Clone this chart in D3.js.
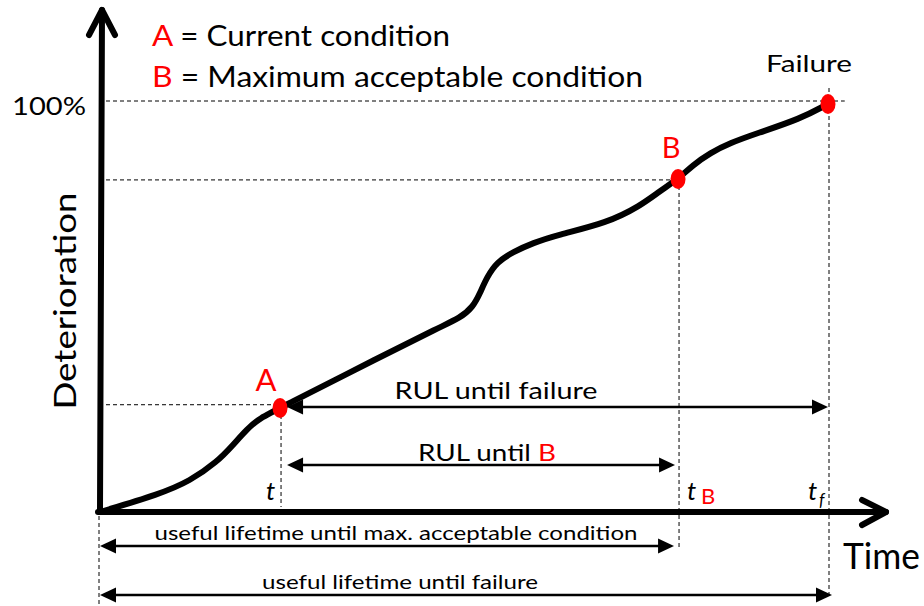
<!DOCTYPE html>
<html>
<head>
<meta charset="utf-8">
<script src="https://cdn.jsdelivr.net/npm/d3@7"></script>
<style>
  body { margin: 0; background: #fff; }
  svg text { font-family: Lato, "Open Sans", sans-serif; }
</style>
</head>
<body>
<div class="chart"></div>
<script>
// deterioration curve (time %, deterioration %)
var curveTime = [0, 8.24, 12.36, 16.07, 18.27, 20.19, 21.98, 24.73, 38.46, 46.7, 49.45, 51.24, 52.2, 53.16, 54.53, 56.73, 59.48, 62.77, 69.64, 74.18, 76.92, 79.4, 81.46, 83.79, 86.54, 90.25, 96.15, 100];
var curveLevel = [0, 4.38, 7.54, 12.17, 16.3, 20.19, 22.87, 25.3, 37.71, 45.01, 47.2, 49.88, 53.28, 57.18, 60.83, 63.26, 65.45, 67.4, 70.32, 74.45, 78.1, 81.02, 84.43, 87.35, 89.78, 92.15, 95.62, 99.27];

// key events: A, B, failure
var eventNames = ["A", "B", "Failure"];
var eventTime = [24.73, 79.4, 100];
var eventLevel = [25.3, 81.02, 99.27];
var guideLevel = [26.1, 80.8, 100];

// measurement spans
var spanLabels = ["RUL until failure", "RUL until ", "useful lifetime until max. acceptable condition", "useful lifetime until failure"];
var spanStart = [24.73, 24.73, 0, 0];
var spanEnd = [100, 79.4, 79.4, 100];

var legendKeys = ["A", "B"];
var legendTexts = [" = Current condition", " = Maximum acceptable condition"];

var svgWidth = 924;
var svgHeight = 606;

var svg = d3
  .select(".chart")
  .append("svg")
  .attr("width", svgWidth)
  .attr("height", svgHeight);

var xScale = d3.scaleLinear().domain([0, 100]).range([100, 828]);
var yScale = d3.scaleLinear().domain([0, 100]).range([512, 101]);

// dashed guide lines
var dash = "4,3";
var guides = svg.append("g")
  .attr("stroke", "#000")
  .attr("stroke-width", 1)
  .attr("stroke-dasharray", dash)
  .attr("fill", "none");

var hEnds = [eventTime[0], eventTime[1], 102.3];
var vEnds = [507, 550, 598];
eventNames.forEach(function (name, i) {
  guides.append("line")
    .attr("x1", xScale(0) + 6).attr("x2", xScale(hEnds[i]))
    .attr("y1", yScale(guideLevel[i])).attr("y2", yScale(guideLevel[i]));
  guides.append("line")
    .attr("x1", xScale(eventTime[i]) + 1).attr("x2", xScale(eventTime[i]) + 1)
    .attr("y1", i == 2 ? 88 : yScale(eventLevel[i])).attr("y2", vEnds[i]);
});
guides.append("line")
  .attr("x1", xScale(0) - 1).attr("x2", xScale(0) - 1)
  .attr("y1", 516).attr("y2", 606);

// axes with open arrowheads
var axes = svg.append("g")
  .attr("stroke", "#000")
  .attr("stroke-width", 6)
  .attr("fill", "none")
  .attr("stroke-linecap", "round")
  .attr("stroke-linejoin", "round");

axes.append("line")
  .attr("x1", xScale(0)).attr("y1", yScale(0))
  .attr("x2", xScale(0) + 2).attr("y2", 10);
axes.append("polyline")
  .attr("points", [[xScale(0) - 11, 35], [xScale(0) + 2, 10], [xScale(0) + 15, 35]].join(" "));

axes.append("line")
  .attr("x1", xScale(0) - 2).attr("y1", yScale(0))
  .attr("x2", 886).attr("y2", yScale(0));
axes.append("polyline")
  .attr("points", [[862, 500], [886, 512], [862, 525]].join(" "));

// curve
var line = d3.line()
  .x((d, i) => xScale(curveTime[i]))
  .y((d, i) => yScale(curveLevel[i]))
  .curve(d3.curveBasis);

svg.append("path")
  .datum(curveTime)
  .attr("d", line)
  .attr("fill", "none")
  .attr("stroke", "#000")
  .attr("stroke-width", 6)
  .attr("stroke-linecap", "round");

// event dots
svg.selectAll("ellipse")
  .data(eventNames)
  .enter()
  .append("ellipse")
  .attr("cx", (d, i) => xScale(eventTime[i]))
  .attr("cy", (d, i) => yScale(eventLevel[i]))
  .attr("rx", 7.5)
  .attr("ry", 10)
  .attr("fill", "#ff0000");

// double arrows
var rowY = [407, 465, 546, 595];
var padL = [7, 7, 0, 0];
var padR = [0, -3, -4, 4];
function arrow(x1, x2, y) {
  var g = svg.append("g");
  g.append("line")
    .attr("x1", x1 + 10).attr("x2", x2 - 10)
    .attr("y1", y).attr("y2", y)
    .attr("stroke", "#000").attr("stroke-width", 2.5);
  g.append("path")
    .attr("d", `M${x1},${y}L${x1 + 16},${y - 7.5}L${x1 + 16},${y + 7.5}Z`)
    .attr("fill", "#000");
  g.append("path")
    .attr("d", `M${x2},${y}L${x2 - 16},${y - 7.5}L${x2 - 16},${y + 7.5}Z`)
    .attr("fill", "#000");
}
spanLabels.forEach(function (label, i) {
  arrow(xScale(spanStart[i]) + padL[i], xScale(spanEnd[i]) + padR[i], rowY[i]);
});

// span labels
var labelX = [496, 487, 396, 400];
var labelY = [399, 461, 540, 589];
var labelSize = [24, 24, 20, 20];
var labelLen = [203, 138, 483, 276];
spanLabels.forEach(function (label, i) {
  var t = svg.append("text")
    .attr("x", labelX[i])
    .attr("y", labelY[i])
    .attr("text-anchor", "middle")
    .attr("font-size", labelSize[i])
    .attr("textLength", labelLen[i])
    .attr("lengthAdjust", "spacingAndGlyphs");
  t.append("tspan").text(label);
  if (i == 1) t.append("tspan").attr("fill", "#ff0000").text("B");
});

// legend
var legendY = [46, 87];
var legendLen = [298, 491];
legendKeys.forEach(function (k, i) {
  var t = svg.append("text")
    .attr("x", 152)
    .attr("y", legendY[i])
    .attr("font-size", 28)
    .attr("textLength", legendLen[i])
    .attr("lengthAdjust", "spacingAndGlyphs");
  t.append("tspan").attr("fill", "#ff0000").text(k);
  t.append("tspan").attr("fill", "#000").text(legendTexts[i]);
});

// event labels
svg.append("text").attr("x", 266).attr("y", 391).attr("text-anchor", "middle")
  .attr("font-size", 31).attr("fill", "#ff0000").text(eventNames[0]);
svg.append("text").attr("x", 671).attr("y", 158).attr("text-anchor", "middle")
  .attr("font-size", 29).attr("fill", "#ff0000").text(eventNames[1]);
svg.append("text").attr("x", 766).attr("y", 72)
  .attr("font-size", 24).attr("textLength", 86).attr("lengthAdjust", "spacingAndGlyphs")
  .text(eventNames[2]);

// axis labels
svg.append("text").attr("x", 12).attr("y", 115)
  .attr("font-size", 25).attr("textLength", 74).attr("lengthAdjust", "spacingAndGlyphs")
  .text("100%");
svg.append("text").attr("x", 843).attr("y", 569)
  .attr("font-size", 36).attr("textLength", 77).attr("lengthAdjust", "spacingAndGlyphs")
  .text("Time");
svg.append("text")
  .attr("transform", "translate(76, 301) rotate(-90)")
  .attr("text-anchor", "middle")
  .attr("font-size", 31).attr("textLength", 217).attr("lengthAdjust", "spacingAndGlyphs")
  .text("Deterioration");

// time markers
var serif = "'Liberation Serif', 'DejaVu Serif', serif";
svg.append("text").attr("x", 266).attr("y", 500).attr("font-family", serif)
  .attr("font-style", "italic").attr("font-size", 26).text("t");
svg.append("text").attr("x", 687).attr("y", 500).attr("font-family", serif)
  .attr("font-style", "italic").attr("font-size", 26).text("t");
svg.append("text").attr("x", 701).attr("y", 504).attr("font-size", 22)
  .attr("fill", "#ff0000").text("B");
svg.append("text").attr("x", 808).attr("y", 500).attr("font-family", serif)
  .attr("font-style", "italic").attr("font-size", 26).text("t");
svg.append("text").attr("x", 819).attr("y", 506).attr("font-family", serif)
  .attr("font-style", "italic").attr("font-size", 17).text("f");
</script>
</body>
</html>
